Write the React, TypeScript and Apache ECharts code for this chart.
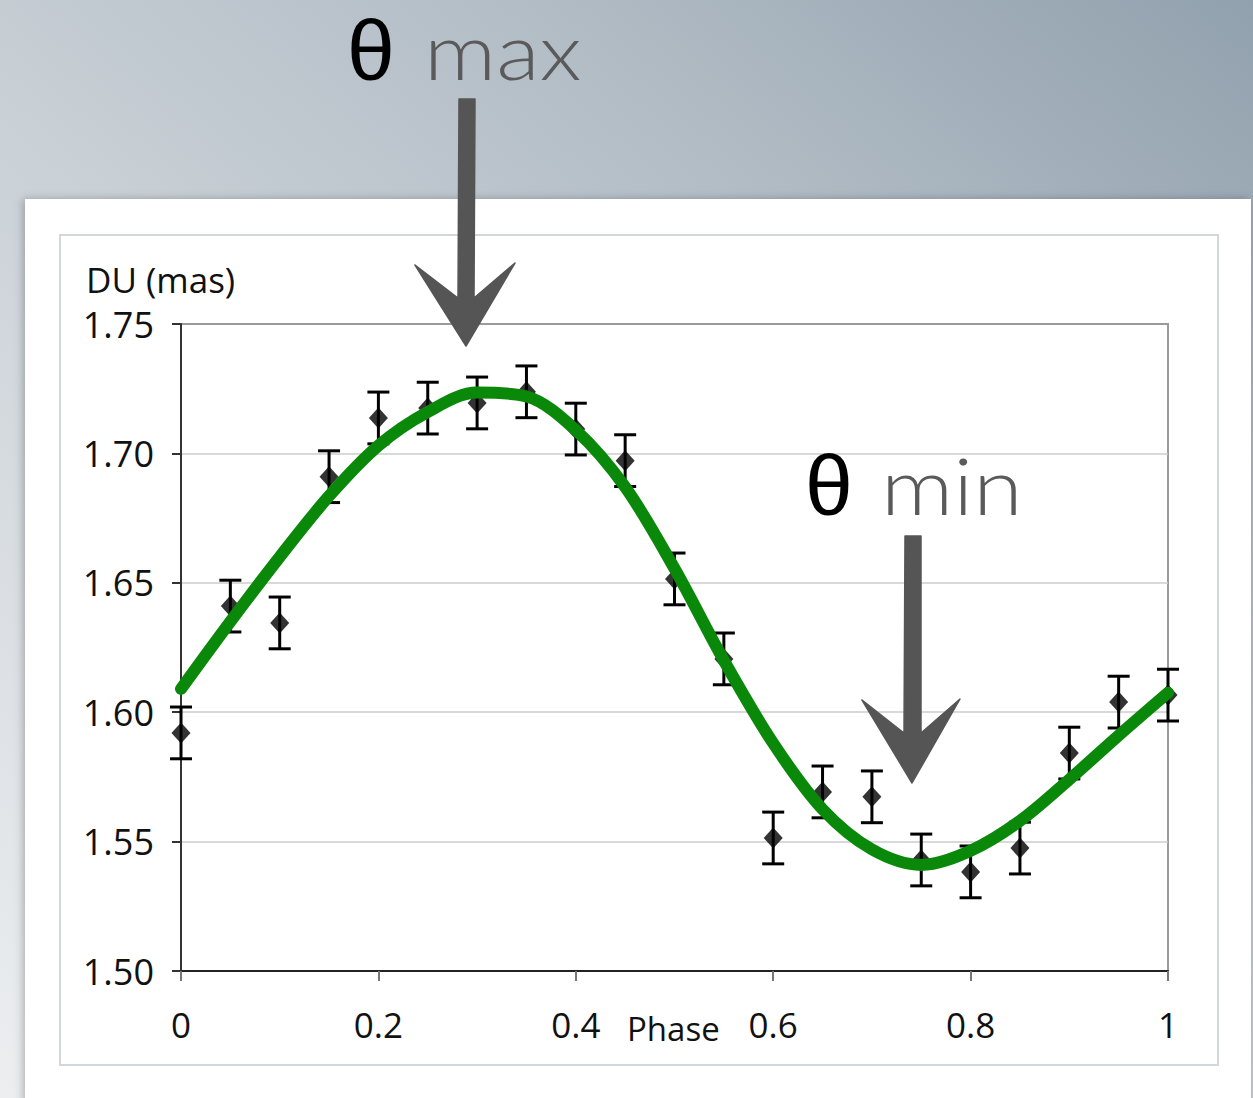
import React, { useEffect, useRef } from "react";
import * as echarts from "echarts";

// Measured points: phase, DU (mas) and half-width of the error bar
const phase = [0, 0.05, 0.1, 0.15, 0.2, 0.25, 0.3, 0.35, 0.4, 0.45, 0.5, 0.55, 0.6, 0.65, 0.7, 0.75, 0.8, 0.85, 0.9, 0.95, 1];
const du = [1.592, 1.641, 1.6345, 1.691, 1.7137, 1.7175, 1.7195, 1.7238, 1.7094, 1.6972, 1.6515, 1.6206, 1.5514, 1.5692, 1.5673, 1.5429, 1.5383, 1.5475, 1.5842, 1.6039, 1.6066];
const duErr = [0.01, 0.01, 0.01, 0.01, 0.01, 0.01, 0.01, 0.01, 0.01, 0.01, 0.01, 0.01, 0.01, 0.01, 0.01, 0.01, 0.01, 0.01, 0.01, 0.01, 0.01];

// Fitted orbit curve
const fitPhase = [0, 0.05, 0.1, 0.15, 0.2, 0.25, 0.3, 0.35, 0.4, 0.45, 0.5, 0.55, 0.6, 0.65, 0.7, 0.75, 0.8, 0.85, 0.9, 0.95, 1];
const fitDu = [1.609, 1.635, 1.66, 1.6835, 1.703, 1.716, 1.7235, 1.722, 1.709, 1.687, 1.6555, 1.62, 1.588, 1.5625, 1.547, 1.541, 1.5465, 1.558, 1.574, 1.591, 1.6075];

// Axis ranges
const xMin = 0, xMax = 1, xStep = 0.2;
const yMin = 1.5, yMax = 1.75, yStep = 0.05;

const labelFont = "'Open Sans', 'Noto Sans', sans-serif";
const arrowGrey = "#555555";

export default function App() {
  const ref = useRef<HTMLDivElement>(null);

  useEffect(() => {
    const chart = echarts.init(ref.current!, null, { renderer: "svg" });

    const errData = phase.map((p, i) => [p, du[i] - duErr[i], du[i] + duErr[i]]);

    const thetaStyle = {
      fontSize: 86,
      lineHeight: 76,
      fontFamily: "'Liberation Sans', Arial, sans-serif",
      fill: "#000",
      align: "left",
      verticalAlign: "middle",
      x: 0,
      y: 0,
    };
    const wordStyle = {
      fontSize: 78,
      lineHeight: 70,
      fontWeight: 300,
      fontFamily: "Lato, 'Open Sans', sans-serif",
      fill: "#5a5a5a",
      align: "left",
      verticalAlign: "middle",
      x: 0,
      y: 0,
    };

    const option: any = {
      animation: false,
      grid: {
        left: 181,
        right: 85,
        top: 324,
        bottom: 127,
        show: true,
        borderColor: "#9a9a9a",
        borderWidth: 2,
        backgroundColor: "transparent",
      },
      xAxis: {
        type: "value",
        min: xMin,
        max: xMax,
        interval: xStep,
        axisLine: { show: true, lineStyle: { color: "#222", width: 2 } },
        axisTick: { show: true, length: 10, lineStyle: { color: "#777", width: 2 } },
        splitLine: { show: false },
        axisLabel: {
          fontSize: 35,
          color: "#111",
          fontFamily: labelFont,
          margin: 36,
          formatter: (v: number) => String(parseFloat(v.toFixed(1))),
        },
      },
      yAxis: {
        type: "value",
        min: yMin,
        max: yMax,
        interval: yStep,
        axisLine: { show: true, lineStyle: { color: "#333", width: 2 } },
        axisTick: { show: true, length: 9, lineStyle: { color: "#333", width: 2 } },
        splitLine: {
          show: true,
          showMinLine: false,
          showMaxLine: false,
          lineStyle: { color: "#cdcdcd", width: 1.5 },
        },
        axisLabel: {
          fontSize: 36,
          color: "#111",
          fontFamily: labelFont,
          margin: 27,
          formatter: (v: number) => v.toFixed(2),
        },
      },
      series: [
        {
          name: "error",
          type: "custom",
          z: 2,
          clip: false,
          encode: { x: 0, y: [1, 2] },
          data: errData,
          renderItem: (params: any, api: any) => {
            const x = api.value(0);
            const lo = api.coord([x, api.value(1)]);
            const hi = api.coord([x, api.value(2)]);
            const half = 11;
            const style = { stroke: "#000", lineWidth: 3, fill: null };
            return {
              type: "group",
              children: [
                { type: "line", shape: { x1: lo[0], y1: lo[1], x2: hi[0], y2: hi[1] }, style },
                { type: "line", shape: { x1: lo[0] - half, y1: lo[1], x2: lo[0] + half, y2: lo[1] }, style },
                { type: "line", shape: { x1: hi[0] - half, y1: hi[1], x2: hi[0] + half, y2: hi[1] }, style },
              ],
            };
          },
        },
        {
          name: "DU",
          type: "scatter",
          z: 3,
          clip: false,
          symbol: "diamond",
          symbolSize: [19, 21],
          itemStyle: { color: "#000" },
          data: phase.map((p, i) => [p, du[i]]),
        },
        {
          name: "fit",
          type: "line",
          z: 4,
          clip: false,
          smooth: 0.33,
          showSymbol: false,
          lineStyle: { color: "#0a880a", width: 12, cap: "round", join: "round" },
          data: fitPhase.map((p, i) => [p, fitDu[i]]),
        },
      ],
      graphic: [
        // slide background
        {
          type: "rect",
          z: -20,
          silent: true,
          shape: { x: 0, y: 0, width: 1253, height: 1098 },
          style: {
            fill: new echarts.graphic.LinearGradient(1, 0, 0, 1, [
              { offset: 0, color: "#91a1ad" },
              { offset: 0.3, color: "#b3bdc6" },
              { offset: 0.55, color: "#c9d0d6" },
              { offset: 1, color: "#eceef0" },
            ]),
          },
        },
        // white panel
        {
          type: "rect",
          z: -15,
          silent: true,
          shape: { x: 25, y: 199, width: 1226, height: 920 },
          style: {
            fill: "#ffffff",
            shadowBlur: 8,
            shadowColor: "rgba(0,0,0,0.25)",
            shadowOffsetX: -2,
            shadowOffsetY: 0,
          },
        },
        // chart frame
        {
          type: "rect",
          z: -12,
          silent: true,
          shape: { x: 60, y: 235, width: 1158, height: 830 },
          style: { fill: "#ffffff", stroke: "#d2d7db", lineWidth: 2 },
        },
        {
          type: "text",
          z: 50,
          style: {
            text: "DU (mas)",
            x: 86,
            y: 279,
            fontSize: 35,
            fontFamily: labelFont,
            fill: "#111",
            align: "left",
            verticalAlign: "middle",
          },
        },
        {
          type: "text",
          z: 50,
          style: {
            text: "Phase",
            x: 627,
            y: 1028,
            fontSize: 33,
            fontFamily: labelFont,
            fill: "#111",
            align: "left",
            verticalAlign: "middle",
          },
        },
        // θ max
        { type: "text", z: 50, x: 347, y: 50, style: { ...thetaStyle, text: "θ" } },
        { type: "text", z: 50, x: 424, y: 50, scaleX: 1.15, style: { ...wordStyle, text: "max" } },
        // θ min
        { type: "text", z: 50, x: 805, y: 485, style: { ...thetaStyle, text: "θ" } },
        { type: "text", z: 50, x: 881, y: 485, scaleX: 1.15, style: { ...wordStyle, text: "min" } },
        // arrows
        {
          type: "polygon",
          z: 60,
          silent: true,
          shape: {
            points: [
              [459, 99], [475, 99], [474, 298], [515, 263], [466, 346], [415, 265], [458, 298],
            ],
          },
          style: { fill: arrowGrey, stroke: arrowGrey, lineWidth: 1.5, lineJoin: "round" },
        },
        {
          type: "polygon",
          z: 60,
          silent: true,
          shape: {
            points: [
              [905, 536], [921, 536], [921, 733], [960, 699], [912, 783], [862, 700], [904, 733],
            ],
          },
          style: { fill: arrowGrey, stroke: arrowGrey, lineWidth: 1.5, lineJoin: "round" },
        },
      ],
    };

    chart.setOption(option);
    return () => chart.dispose();
  }, []);

  return (
    <div
      ref={ref}
      style={{ position: "absolute", left: 0, top: 0, width: 1253, height: 1098 }}
    />
  );
}
